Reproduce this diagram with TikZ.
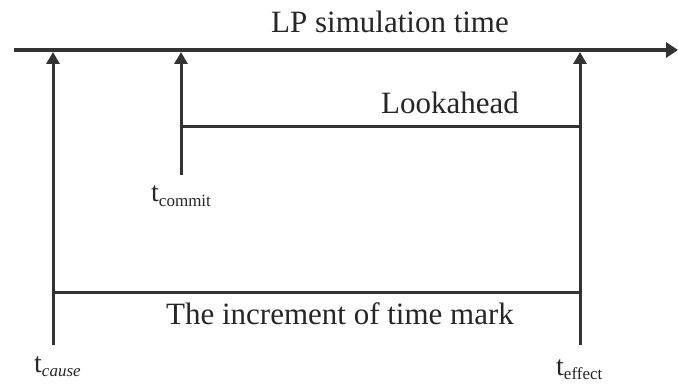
\documentclass[tikz,border=0pt]{standalone}
\usepackage{fontspec}
\setmainfont{Liberation Serif}
\usetikzlibrary{arrows.meta}
\tikzset{
  axisline/.style={line width=3.6pt, draw=black!80, -{Triangle[length=12pt,width=15pt]}},
  tickarrow/.style={line width=3pt, draw=black!80, -{Triangle[length=12pt,width=13pt]}},
  spanline/.style={line width=3pt, draw=black!80},
  label/.style={inner sep=0pt, anchor=base, text=black!85, font=\fontsize{31}{36}\selectfont},
  tlabel/.style={inner sep=0pt, anchor=base west, text=black!85, font=\fontsize{28}{32}\selectfont}
}
\newcommand{\tsub}[1]{t\raisebox{-5pt}{\fontsize{17}{17}\selectfont #1}}
\begin{document}
\begin{tikzpicture}[x=1pt, y=-1pt]
  \useasboundingbox (0,0) rectangle (678,390);
  % time axis
  \coordinate (axisstart) at (14,50);
  \coordinate (axisend) at (678,50);
  \draw[axisline] (axisstart) -- (axisend);
  \node[label] (title) at (390,33) {LP simulation time};

  % event ticks: foot of each line and its tip on the axis
  \coordinate (causefoot) at (53,345);
  \coordinate (causetip) at (53,52);
  \coordinate (commitfoot) at (181,175);
  \coordinate (committip) at (181,52);
  \coordinate (effectfoot) at (580,345);
  \coordinate (effecttip) at (580,52);
  \draw[tickarrow] (causefoot) -- (causetip);
  \draw[tickarrow] (commitfoot) -- (committip);
  \draw[tickarrow] (effectfoot) -- (effecttip);

  % lookahead span
  \coordinate (lookL) at (181,127);
  \coordinate (lookR) at (580,127);
  \draw[spanline] (lookL) -- (lookR);
  \node[label] (look) at (450,114) {Lookahead};

  % increment span
  \coordinate (incL) at (53,293);
  \coordinate (incR) at (580,293);
  \draw[spanline] (incL) -- (incR);
  \node[label] (inc) at (340,325) {The increment of time mark};

  % event labels
  \node[tlabel] (tcommit) at (151,202) {\tsub{commit}};
  \node[tlabel] (tcause) at (34,372) {\tsub{\itshape cause}};
  \node[tlabel] (teffect) at (556,375) {\tsub{effect}};
\end{tikzpicture}
\end{document}
